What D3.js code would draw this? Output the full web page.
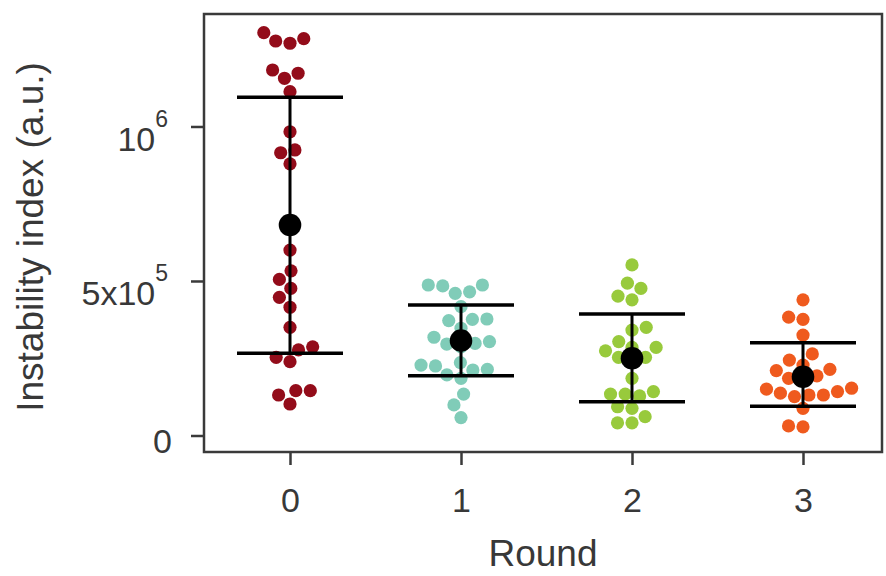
<!DOCTYPE html>
<html><head><meta charset="utf-8">
<script src="https://cdn.jsdelivr.net/npm/d3@7"></script>
<style>
body{margin:0;background:#fff}
svg{display:block}
text{font-family:"Liberation Sans",Arial,sans-serif;fill:#383838}
</style>
</head><body>
<svg id="c" width="886" height="576"></svg>
<script>
const categories = ["0", "1", "2", "3"];
const round0 = [1303600, 1276700, 1269300, 1284100, 1172200, 1156000, 1182800, 1112600,
  983000, 915000, 924000, 879000, 600000, 533000, 505000, 476000, 447000, 415000, 350000,
  287000, 277000, 239000, 253000, 131000, 145000, 145000, 102000];
const round1 = [487000, 465000, 460000, 487000, 484000, 417000, 376000, 372000, 377000,
  347000, 318000, 298000, 287000, 296000, 304000, 228000, 225000, 196000, 236000, 185000,
  212000, 214000, 134000, 99000, 58000];
const round2 = [552000, 493000, 476000, 451000, 439000, 350000, 341000, 304000, 285000,
  285000, 274000, 253000, 253000, 236000, 185000, 142000, 134000, 128000, 134000, 93000,
  88000, 61000, 41000, 41000];
const round3 = [439000, 383000, 376000, 325000, 264000, 244000, 228000, 210000, 214000,
  185000, 193000, 180000, 153000, 137000, 126000, 131000, 131000, 142000, 150000, 88000,
  31000, 28000];
const seriesValues = [round0, round1, round2, round3];
const means = [681000, 307000, 250000, 190000];
const upperBars = [1094500, 422000, 393000, 300000];
const lowerBars = [266000, 193000, 109000, 95000];
const colors = ["#930c1a", "#80ccb8", "#98ca3c", "#ef5a1e"];
const yTickValues = [0, 500000, 1000000];
const yTickLabels = [["0", ""], ["5x10", "5"], ["10", "6"]];
const xTitle = "Round";
const yTitle = "Instability index (a.u.)";

const svg = d3.select("#c");
const L = 204, R = 882, T = 14, B = 452;

const x = d3.scalePoint().domain(categories).range([290, 803]);
const y = d3.scaleLinear().domain([-53400, 1364000]).range([B, T]);

// swarm layout (seaborn-like)
function swarm(values, cx, d) {
  const pts = values.map((v, i) => ({v, y: y(v), x: cx, i}));
  const sorted = pts.slice().sort((a, b) => a.v - b.v);
  const placed = [];
  for (const p of sorted) {
    const nb = placed.filter(q => Math.abs(q.y - p.y) < d);
    const cands = [cx];
    for (const q of nb) {
      const dy = q.y - p.y;
      const dx = Math.sqrt(Math.max(0, d * d - dy * dy));
      cands.push(q.x - dx, q.x + dx);
    }
    cands.sort((a, b) => Math.abs(a - cx) - Math.abs(b - cx));
    for (const c of cands) {
      if (nb.every(q => (q.x - c) ** 2 + (q.y - p.y) ** 2 >= d * d - 1e-6)) { p.x = c; break; }
    }
    placed.push(p);
  }
  return pts;
}

// points
categories.forEach((c, ci) => {
  const pts = swarm(seriesValues[ci], x(c), 14.5);
  svg.append("g").selectAll("circle").data(pts).join("circle")
    .attr("cx", d => d.x).attr("cy", d => d.y).attr("r", 6.6)
    .attr("fill", colors[ci]);
});

// error bars + means
const eb = svg.append("g");
categories.forEach((c, ci) => {
  const cx = x(c);
  eb.append("line").attr("x1", cx).attr("x2", cx)
    .attr("y1", y(lowerBars[ci])).attr("y2", y(upperBars[ci]))
    .attr("stroke", "#000").attr("stroke-width", 3);
  [lowerBars[ci], upperBars[ci]].forEach(v => {
    eb.append("line").attr("x1", cx - 53).attr("x2", cx + 53)
      .attr("y1", y(v)).attr("y2", y(v))
      .attr("stroke", "#000").attr("stroke-width", 3.5);
  });
  eb.append("circle").attr("cx", cx).attr("cy", y(means[ci])).attr("r", 11.3).attr("fill", "#000");
});

// frame
svg.append("rect").attr("x", L).attr("y", T).attr("width", R - L).attr("height", B - T)
  .attr("fill", "none").attr("stroke", "#3a3a3a").attr("stroke-width", 2.5);

// y axis
const yAxis = svg.append("g").attr("transform", `translate(${L},0)`)
  .call(d3.axisLeft(y).tickValues(yTickValues).tickSize(13).tickFormat(""));
yAxis.select(".domain").remove();
yAxis.selectAll(".tick line").attr("stroke", "#3a3a3a").attr("stroke-width", 2.5);
yAxis.selectAll(".tick").each(function(d, i) {
  const lab = yTickLabels[i];
  const t = d3.select(this).append("text").attr("text-anchor", "end")
    .attr("x", lab[1] ? -36 : -32).attr("y", lab[1] ? 24 : 17).attr("fill", "#383838")
    .style("font-size", "34px");
  t.append("tspan").text(lab[0]);
  if (lab[1]) t.append("tspan").attr("dy", -24).style("font-size", "23px").text(lab[1]);
});

// x axis
const xAxis = svg.append("g").attr("transform", `translate(0,${B})`)
  .call(d3.axisBottom(x).tickSize(13).tickPadding(23));
xAxis.select(".domain").remove();
xAxis.selectAll(".tick line").attr("stroke", "#3a3a3a").attr("stroke-width", 2.5);
xAxis.selectAll(".tick text").attr("fill", "#383838").style("font-size", "34px")
  .style("font-family", "'Liberation Sans', Arial, sans-serif");

// titles
svg.append("text").attr("x", (L + R) / 2).attr("y", 566).attr("text-anchor", "middle")
  .style("font-size", "37px").text(xTitle);
svg.append("text").attr("transform", `translate(43,237) rotate(-90)`).attr("text-anchor", "middle")
  .style("font-size", "37px").text(yTitle);
</script>
</body></html>
